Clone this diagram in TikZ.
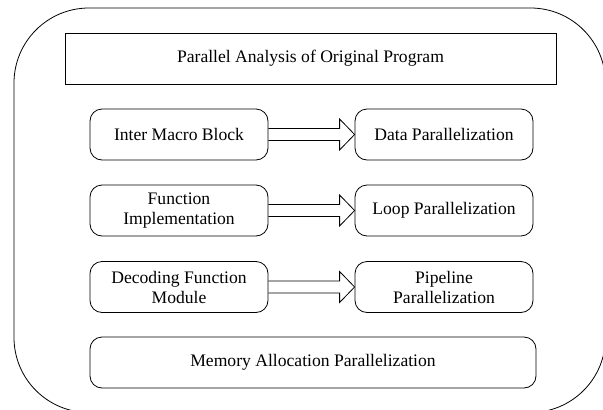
\documentclass[tikz,border=0pt]{standalone}
\usepackage{fontspec}
\setmainfont{Liberation Serif}
\usetikzlibrary{calc}
\begin{document}
\begin{tikzpicture}[x=1pt,y=-1pt,
  every node/.style={font=\fontsize{17.6}{20}\selectfont},
  rbox/.style={draw, line width=0.8pt, rounded corners=12pt, minimum width=178pt, minimum height=51pt, align=center, inner sep=2pt},
  sbox/.style={draw, line width=0.8pt, minimum height=51pt, align=center},
  blockarrow/.style={draw, line width=0.8pt, line join=miter},
  outerline/.style={draw, line width=0.8pt}]
\useasboundingbox (0,0) rectangle (603,410);
\begin{scope}
\clip (0,0) rectangle (603,410);
\path[outerline, rounded corners=75pt] (14,8) rectangle (605.5,412.5);
\end{scope}
\node[sbox, minimum width=491pt] (title) at (310.5,58.5) {Parallel Analysis of Original Program};
\node[rbox] (a1) at (179,134.5) {Inter Macro Block};
\node[rbox] (b1) at (444,134.5) {Data Parallelization};
\node[rbox] (a2) at (179,210.5) {Function\\Implementation};
\node[rbox] (b2) at (444,210.5) {Loop Parallelization};
\node[rbox] (a3) at (179,287) {Decoding Function\\Module};
\node[rbox] (b3) at (444,287) {Pipeline\\Parallelization};
\node[rbox, minimum width=446pt] (mem) at (313,362.5) {Memory Allocation Parallelization};
\foreach \i in {1,2,3}{
  \draw[blockarrow] ($(a\i.east)+(0,-6)$) -- ($(b\i.west)+(-15,-6)$) -- ($(b\i.west)+(-15,-15.5)$) -- (b\i.west) -- ($(b\i.west)+(-15,15.5)$) -- ($(b\i.west)+(-15,6)$) -- ($(a\i.east)+(0,6)$);
}
\end{tikzpicture}
\end{document}
